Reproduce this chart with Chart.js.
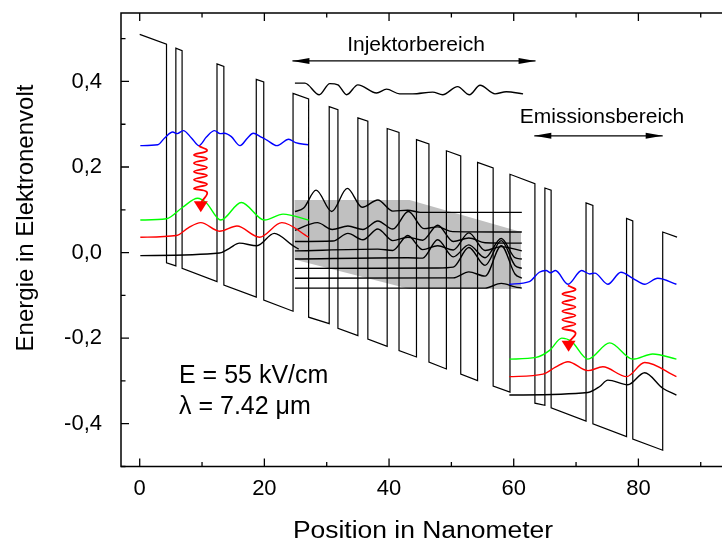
<!DOCTYPE html>
<html>
<head>
<meta charset="utf-8">
<script src="https://cdn.jsdelivr.net/npm/chart.js@4/dist/chart.umd.min.js"></script>
<style>
  html, body { margin: 0; padding: 0; background: #fff; overflow: hidden; }
  #wrap { width: 740px; height: 542px; }
</style>
</head>
<body>
<div id="wrap"><canvas id="band" width="740" height="542"></canvas></div>
<script>
// ---- data (x in nm, y in eV) ----
const xMajor = [0, 20, 40, 60, 80];
const xMinor = [10, 30, 50, 70, 90];
const yMajor = [-0.4, -0.2, 0, 0.2, 0.4];
const yMinor = [-0.5, -0.3, -0.1, 0.1, 0.3, 0.5];

// conduction band edge
const bandEdge = [
  [0, 0.51], [4.3, 0.487], [4.3, -0.024], [5.8, -0.031], [5.8, 0.478], [6.8, 0.472],
  [6.8, -0.037], [12.4, -0.068], [12.4, 0.441], [13.5, 0.435], [13.5, -0.076],
  [18.7, -0.104], [18.7, 0.405], [19.9, 0.399], [19.9, -0.111], [24.6, -0.137],
  [24.6, 0.372], [27.1, 0.359], [27.1, -0.151], [30.4, -0.166], [30.4, 0.341],
  [31.8, 0.334], [31.8, -0.177], [35.0, -0.194], [35.0, 0.315], [36.6, 0.307],
  [36.6, -0.202], [39.7, -0.219], [39.7, 0.290], [41.6, 0.281], [41.6, -0.229],
  [44.4, -0.244], [44.4, 0.264], [46.4, 0.254], [46.4, -0.256], [49.2, -0.272],
  [49.2, 0.238], [51.5, 0.226], [51.5, -0.284], [54.2, -0.299], [54.2, 0.211],
  [56.7, 0.198], [56.7, -0.312], [59.4, -0.326], [59.4, 0.183], [63.4, 0.161],
  [63.4, -0.352], [65.0, -0.357], [65.0, 0.151], [66.0, 0.146], [66.0, -0.363],
  [71.6, -0.394], [71.6, 0.116], [72.7, 0.110], [72.7, -0.400], [78.1, -0.430],
  [78.1, 0.080], [79.1, 0.074], [79.1, -0.436], [83.9, -0.462], [83.9, 0.048],
  [86.2, 0.036]
];

// first period, active region
const blue1 = [[0.1, 0.25], [2.9, 0.252], [4.0, 0.268], [5.3, 0.282], [6.0, 0.278], [7.0, 0.285],
  [8.3, 0.268], [9.5, 0.25], [10.7, 0.27], [12.0, 0.285], [12.9, 0.278], [13.6, 0.279],
  [14.7, 0.271], [16.1, 0.25], [17.3, 0.268], [18.2, 0.279], [19.5, 0.27], [20.4, 0.263],
  [22.0, 0.25], [23.9, 0.265], [25.0, 0.257], [27.0, 0.252]];
const green1 = [[0.1, 0.076], [4.3, 0.079], [6.9, 0.106], [9.3, 0.127], [10.7, 0.116],
  [13.0, 0.076], [16.3, 0.117], [20.0, 0.076], [23.0, 0.09], [27.1, 0.076]];
const red1 = [[0.1, 0.036], [5.9, 0.04], [7.8, 0.058], [9.8, 0.07], [12.8, 0.05],
  [15.6, 0.062], [19.2, 0.036], [22.8, 0.07], [27.1, 0.036]];
const ground1 = [[0.1, -0.007], [12.8, -0.001], [14.4, 0.01], [16.0, 0.022], [18.8, 0.016],
  [21.6, 0.045], [24.4, 0.018], [25.5, 0.008]];

// injector
const injUpper = [[24.9, 0.396], [26.5, 0.396], [28.8, 0.369], [30.5, 0.395], [31.8, 0.392],
  [33.2, 0.369], [35.0, 0.392], [38.0, 0.373], [39.6, 0.382], [41.7, 0.371], [43.8, 0.371],
  [47.0, 0.375], [48.6, 0.369], [51.0, 0.388], [52.9, 0.369], [54.6, 0.391], [57.0, 0.371],
  [58.8, 0.376], [61.5, 0.371]];
const injector = [
  [[24.9, 0.096], [26.3, 0.104], [28.3, 0.146], [30.8, 0.096], [33.3, 0.15], [35.7, 0.106],
   [38.2, 0.123], [40.6, 0.097], [43.0, 0.099], [45.0, 0.094], [61.3, 0.094]],
  [[24.9, 0.052], [28.5, 0.07], [30.9, 0.054], [33.4, 0.062], [35.8, 0.054], [38.2, 0.074],
   [40.6, 0.055], [43.1, 0.096], [45.6, 0.056], [47.8, 0.06], [50.2, 0.049], [61.3, 0.048]],
  [[24.9, 0.026], [31.0, 0.027], [33.4, 0.045], [35.8, 0.03], [38.2, 0.055], [40.6, 0.028],
   [43.0, 0.036], [45.4, 0.029], [47.8, 0.064], [50.3, 0.026], [52.8, 0.034], [55.4, 0.023],
   [61.3, 0.022]],
  [[24.9, 0.004], [38.2, 0.008], [40.6, 0.005], [43.0, 0.04], [45.4, 0.007], [47.8, 0.016],
   [50.3, 0.006], [52.8, 0.046], [55.4, 0.005], [58.0, 0.014], [61.3, 0.004]],
  [[24.9, -0.015], [43.0, -0.012], [45.4, -0.013], [47.8, 0.03], [50.3, -0.01], [52.8, 0.018],
   [55.4, -0.012], [58.0, 0.033], [60.2, -0.012], [61.3, -0.015]],
  [[24.9, -0.037], [47.8, -0.036], [50.3, -0.034], [52.8, 0.012], [55.4, -0.03], [58.0, 0.028],
   [60.2, -0.03], [61.3, -0.037]],
  [[24.9, -0.06], [50.3, -0.059], [52.8, -0.045], [55.4, -0.055], [58.0, 0.016], [60.2, -0.05],
   [61.3, -0.06]],
  [[24.9, -0.083], [55.4, -0.083], [58.0, -0.072], [60.2, -0.08], [61.3, -0.083]]
];
const grayTop = [[24.8, 0.123], [43.3, 0.123], [61.2, 0.048]];
const grayBottom = [[24.8, -0.016], [43.3, -0.085], [61.2, -0.085]];

// second period, active region
const blue2 = [[59.3, -0.074], [62.5, -0.068], [64.1, -0.046], [65.2, -0.042], [65.9, -0.047],
  [66.7, -0.042], [68.7, -0.074], [70.9, -0.042], [72.2, -0.05], [73.0, -0.048], [75.1, -0.074],
  [77.2, -0.046], [79.1, -0.06], [81.0, -0.074], [83.1, -0.06], [86.1, -0.074]];
const green2 = [[59.3, -0.249], [63.6, -0.245], [65.8, -0.228], [67.7, -0.2], [69.3, -0.208],
  [71.9, -0.249], [75.4, -0.211], [79.1, -0.249], [82.3, -0.237], [86.1, -0.249]];
const red2 = [[59.3, -0.29], [64.7, -0.284], [66.7, -0.268], [68.7, -0.255], [71.9, -0.276],
  [74.3, -0.267], [78.1, -0.29], [81.0, -0.257], [86.1, -0.29]];
const ground2 = [[59.3, -0.333], [71.9, -0.327], [73.8, -0.313], [75.1, -0.298], [78.3, -0.309],
  [81.0, -0.281], [83.9, -0.317], [86.1, -0.333]];

// radiative transitions (wavy arrows)
const photon1 = [[9.5, 0.249], [10.8, 0.238], [8.7, 0.228], [10.8, 0.219], [8.7, 0.209],
  [10.8, 0.199], [8.7, 0.189], [10.8, 0.18], [8.7, 0.17], [10.8, 0.16], [8.7, 0.15],
  [10.8, 0.141], [9.9, 0.118]];
const photon2 = [[68.7, -0.077], [69.9, -0.087], [67.8, -0.097], [69.9, -0.107], [67.8, -0.117],
  [69.9, -0.127], [67.8, -0.137], [69.9, -0.147], [67.8, -0.157], [69.9, -0.167],
  [67.8, -0.177], [69.9, -0.187], [68.9, -0.209]];
const photonTips = [[9.8, 0.094], [68.8, -0.232]];

// region markers
const injArrow = [[24.5, 0.448], [63.5, 0.448]];
const emiArrow = [[63.3, 0.273], [83.9, 0.273]];

const pts = a => a.map(p => ({ x: p[0], y: p[1] }));
const wave = (data, color) => ({
  data: pts(data), borderColor: color, borderWidth: 1.4, pointRadius: 0,
  cubicInterpolationMode: 'monotone', fill: false
});

const datasets = [
  { data: pts(photon1), borderColor: '#ff0000', borderWidth: 1.8, pointRadius: 0, tension: 0.45 },
  { data: pts(photon2), borderColor: '#ff0000', borderWidth: 1.8, pointRadius: 0, tension: 0.45 },
  wave(blue1, '#0000ff'), wave(green1, '#00ff00'), wave(red1, '#ff0000'), wave(ground1, '#000000'),
  wave(blue2, '#0000ff'), wave(green2, '#00ff00'), wave(red2, '#ff0000'), wave(ground2, '#000000'),
  wave(injUpper, '#000000'),
  ...injector.map(d => wave(d, '#000000')),
  { data: pts(bandEdge), borderColor: '#000000', borderWidth: 1.2, pointRadius: 0, tension: 0 },
  { data: pts(injArrow), borderColor: '#000000', borderWidth: 1.2, pointRadius: 0 },
  { data: pts(emiArrow), borderColor: '#000000', borderWidth: 1.2, pointRadius: 0 },
  { data: pts(grayTop), borderWidth: 0, pointRadius: 0, fill: false },
  { data: pts(grayBottom), borderWidth: 0, pointRadius: 0, fill: '-1', backgroundColor: '#c0c0c0' }
];

const font = "'Liberation Sans', Arial, sans-serif";

// frame, inward ticks, arrowheads and labels
const decor = {
  id: 'decor',
  afterDatasetsDraw(chart) {
    const { ctx, scales: { x, y } } = chart;
    ctx.save();
    ctx.fillStyle = '#000';
    const head = (p, dx, dy, len, half) => {
      const px = x.getPixelForValue(p[0]), py = y.getPixelForValue(p[1]);
      ctx.beginPath();
      ctx.moveTo(px, py);
      ctx.lineTo(px - dx * len - dy * half, py - dy * len - dx * half);
      ctx.lineTo(px - dx * len + dy * half, py - dy * len + dx * half);
      ctx.closePath();
      ctx.fill();
    };
    head(injArrow[0], -1, 0, 17, 3);
    head(injArrow[1], 1, 0, 17, 3);
    head(emiArrow[0], -1, 0, 17, 3);
    head(emiArrow[1], 1, 0, 17, 3);
    ctx.fillStyle = '#ff0000';
    photonTips.forEach(p => head(p, 0, 1, 11, 7));

    ctx.fillStyle = '#000';
    ctx.font = '21px ' + font;
    ctx.textAlign = 'center';
    ctx.textBaseline = 'alphabetic';
    ctx.fillText('Injektorbereich', 416, 51);
    ctx.fillText('Emissionsbereich', 602, 123);
    ctx.textAlign = 'left';
    ctx.font = '25px ' + font;
    ctx.fillText('E = 55 kV/cm', 179, 383);
    ctx.fillText('\u03bb = 7.42 \u03bcm', 179, 414);
    ctx.restore();
  },
  afterDraw(chart) {
    const { ctx, chartArea: a, scales: { x, y } } = chart;
    ctx.save();
    ctx.strokeStyle = '#000';
    ctx.lineWidth = 1.5;
    ctx.strokeRect(a.left, a.top, a.right - a.left, a.bottom - a.top);
    ctx.lineWidth = 1.3;
    ctx.beginPath();
    const xt = (v, len) => {
      const p = x.getPixelForValue(v);
      ctx.moveTo(p, a.bottom); ctx.lineTo(p, a.bottom - len);
      ctx.moveTo(p, a.top); ctx.lineTo(p, a.top + len);
    };
    const yt = (v, len) => {
      const p = y.getPixelForValue(v);
      ctx.moveTo(a.left, p); ctx.lineTo(a.left + len, p);
      ctx.moveTo(a.right, p); ctx.lineTo(a.right - len, p);
    };
    xMajor.forEach(v => xt(v, 8));
    xMinor.forEach(v => xt(v, 4.5));
    yMajor.forEach(v => yt(v, 8));
    yMinor.forEach(v => yt(v, 4.5));
    ctx.stroke();

    ctx.fillStyle = '#000';
    ctx.textAlign = 'center';
    ctx.textBaseline = 'alphabetic';
    ctx.save();
    ctx.translate(423, 538);
    ctx.scale(1.15, 1);
    ctx.font = '23px ' + font;
    ctx.fillText('Position in Nanometer', 0, 0);
    ctx.restore();
    ctx.translate(33, 218);
    ctx.rotate(-Math.PI / 2);
    ctx.font = '24px ' + font;
    ctx.fillText('Energie in Elektronenvolt', 0, 0);
    ctx.restore();
  }
};

new Chart(document.getElementById('band'), {
  type: 'line',
  data: { datasets },
  options: {
    responsive: false,
    animation: false,
    events: [],
    layout: { padding: { left: 0, top: 13, right: 0, bottom: 0 } },
    plugins: {
      legend: { display: false },
      tooltip: { enabled: false },
      filler: { drawTime: 'beforeDatasetsDraw' }
    },
    scales: {
      x: {
        type: 'linear', min: -3, max: 96.3,
        grid: { display: false }, border: { display: false },
        afterFit: s => { s.height = 75.5; s.paddingLeft = 0; s.paddingRight = 0; },
        afterBuildTicks: s => { s.ticks = xMajor.map(v => ({ value: v })); },
        ticks: { color: '#000', font: { family: font, size: 22 }, padding: 1,
          maxRotation: 0, autoSkip: false, callback: v => String(v) }
      },
      y: {
        type: 'linear', min: -0.5, max: 0.56,
        grid: { display: false }, border: { display: false },
        afterFit: s => { s.width = 121; s.paddingTop = 0; s.paddingBottom = 0; },
        afterBuildTicks: s => { s.ticks = yMajor.map(v => ({ value: v })); },
        ticks: { color: '#000', font: { family: font, size: 22 }, padding: 11,
          autoSkip: false, callback: v => v.toFixed(1).replace('.', ',') }
      }
    }
  },
  plugins: [decor]
});
</script>
</body>
</html>
